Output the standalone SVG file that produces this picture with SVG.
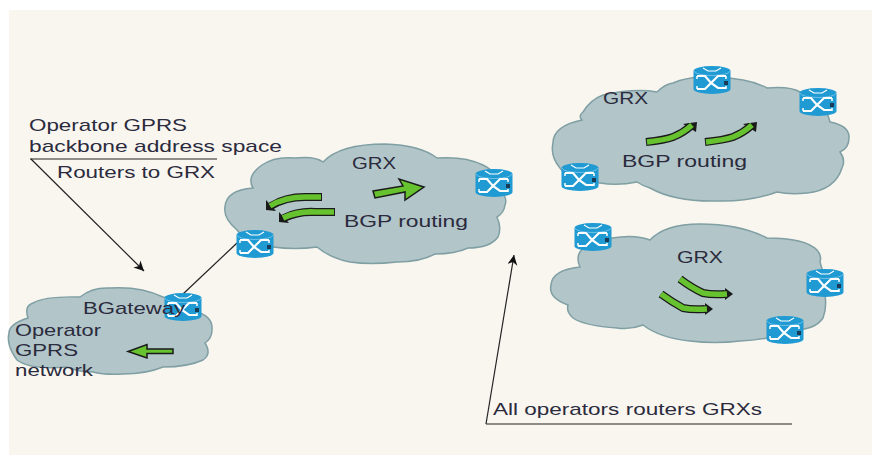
<svg xmlns="http://www.w3.org/2000/svg" width="881" height="455" viewBox="0 0 881 455">
<style>
.cloud{fill:#b2c5c9;stroke:#7f9fa3;stroke-width:1.5}
.t{font-family:"Liberation Sans",Arial,sans-serif;font-size:17px;fill:#2b2b3d}
.ln{fill:none;stroke:#222;stroke-width:1.2}
.ga{fill:none;stroke:#1a1a1a;stroke-width:8;stroke-linejoin:round}
.gb{fill:none;stroke:#66c22e;stroke-width:5.500;stroke-linejoin:round}
.gp{fill:#66c22e;stroke:#1a1a1a;stroke-width:1.5;stroke-linejoin:miter}
.hd{fill:#1a1a1a}
.wx{fill:none;stroke:#fff;stroke-width:2.2}
</style>
<defs>
<marker id="ah" markerWidth="12" markerHeight="12" refX="10" refY="5" orient="auto" markerUnits="userSpaceOnUse"><path d="M0,0 L10,5 L0,10 L3,5 Z" fill="#111"/></marker>
<g id="router">
<path d="M-18.500,-9 A18.500,5 0 0 1 18.500,-9 V9 A18.500,5 0 0 1 -18.500,9 Z" fill="#1f9ad3"/>
<path d="M-18,-9 A18,4.500 0 0 0 18,-9" fill="none" stroke="#6fc0e6" stroke-width="1"/>
<path class="wx" d="M-15,-4 H-7 L-1,3 L6,8 H14 M-15,9 H-7 L-1,3 L6,-4 H14"/>
<path d="M-15,-4 v3 M14,-4 v3 M-15,9 v-3 M14,9 v-3" fill="none" stroke="#fff" stroke-width="1.5"/>
<path d="M-9,-12 L-4,-9 H4 L9,-12" fill="none" stroke="#fff" stroke-width="1.2"/>
<path d="M12,1 l4,0 l0,4 l-4,0 z" fill="#1a3a55"/>
</g>
</defs>
<rect width="881" height="455" fill="#fff"/>
<rect x="9" y="10" width="863" height="445" fill="#f9f6f0"/>

<g id="cloud-operator">
<path class="cloud" d="M9,333 Q9,324 28,318 Q24,306 33,303 Q45,296 80,297 Q92,287 110,288 Q140,286 163,297 Q192,298 200,313 Q213,318 212,330 Q212,338 205,343 Q212,354 203,360 Q188,367 163,367 Q146,374 123,374 Q104,375 93,372 Q78,372 67,367 Q30,370 17,360 Q6,345 9,333 Z"/>
<path class="gp" d="M173,349 H147 V344.500 L128,351.500 L147,358 V353.500 H173 Z"/>
<text class="t" x="15" y="336" textLength="86" lengthAdjust="spacingAndGlyphs">Operator</text>
<text class="t" x="15" y="356" textLength="63" lengthAdjust="spacingAndGlyphs">GPRS</text>
<text class="t" x="15" y="376" textLength="78" lengthAdjust="spacingAndGlyphs">network</text>
</g>

<g id="cloud-grx-centre">
<path class="cloud" d="M225,207 Q226,190 253,188 Q246,176 262,165 Q275,156 295,158 Q315,156 323,162 Q340,144 385,144 Q420,145 437,158 Q465,156 483,165 Q498,172 500,190 Q508,198 505,205 Q504,213 497,217 Q502,228 498,237 Q490,248 468,248 Q455,254 435,254 Q420,262 397,262 Q370,265 350,262 Q330,258 317,247 Q295,250 273,247 Q248,245 237,230 Q223,218 225,207 Z"/>
<path class="ga" d="M322,197 H305 Q285,197 271,206"/><polygon class="hd" points="266,200 276,211 266,210"/><path class="gb" d="M321,197 H305 Q285,197 270,206"/>
<path class="ga" d="M335,212 H315 Q298,211 284,218"/><polygon class="hd" points="279,212 289,223 279,222"/><path class="gb" d="M334,212 H315 Q298,211 283,218"/>
<polygon class="gp" points="373,191 403,186 399,179 424,187 405,200 405,192 375,198"/>
<text class="t" x="352" y="169" textLength="44" lengthAdjust="spacingAndGlyphs">GRX</text>
<text class="t" x="344" y="227" textLength="124" lengthAdjust="spacingAndGlyphs">BGP routing</text>
</g>

<g id="cloud-grx-top">
<path class="cloud" d="M553,143 Q553,126 582,120 Q578,116 583,112 Q590,100 603,95 Q635,88 657,92 Q665,84 673,83 Q690,76 707,78 Q745,76 767,88 Q790,86 800,92 Q825,100 830,122 Q850,126 849,138 Q849,148 840,152 Q846,160 842,168 Q835,190 807,193 Q790,195 777,192 Q750,202 717,201 Q675,202 650,188 Q643,186 637,182 Q618,186 600,183 Q568,180 560,168 Q550,156 553,143 Z"/>
<path class="ga" d="M646,142 Q665,140 673,137 Q683,133 691,126"/><polygon class="hd" points="683,124 697,122 696,132"/><path class="gb" d="M647,142 Q665,140 673,137 Q683,133 692,125"/>
<path class="ga" d="M705,142 Q724,140 733,137 Q743,133 751,126"/><polygon class="hd" points="743,124 757,122 756,132"/><path class="gb" d="M706,142 Q724,140 733,137 Q743,133 752,125"/>
<text class="t" x="603" y="104" textLength="45" lengthAdjust="spacingAndGlyphs">GRX</text>
<text class="t" x="622" y="167" textLength="125" lengthAdjust="spacingAndGlyphs">BGP routing</text>
</g>

<g id="cloud-grx-bottom">
<path class="cloud" d="M551,285 Q552,270 580,267 Q576,258 580,252 Q590,238 612,238 Q635,234 650,240 Q665,224 700,224 Q740,224 767,238 Q805,238 817,250 Q822,256 820,262 Q826,280 825,295 Q827,308 823,318 Q815,330 793,330 Q770,340 740,341 Q715,344 690,341 Q660,338 643,325 Q630,330 617,328 Q585,326 573,318 Q566,312 568,305 Q548,298 551,285 Z"/>
<path class="ga" d="M680,279 Q692,288 703,293 Q712,295 725,294"/><polygon class="hd" points="725,288 733,294 725,300"/><path class="gb" d="M680,279 Q692,288 703,293 Q712,295 727,294"/>
<path class="ga" d="M661,294 Q672,302 683,308 Q692,310 705,309"/><polygon class="hd" points="705,303 713,309 705,315"/><path class="gb" d="M661,294 Q672,302 683,308 Q692,310 707,309"/>
<text class="t" x="677" y="263" textLength="46" lengthAdjust="spacingAndGlyphs">GRX</text>
</g>

<g id="connectors">
<line class="ln" x1="30" y1="159" x2="217" y2="159"/>
<line class="ln" x1="31" y1="159" x2="144" y2="271" marker-end="url(#ah)"/>
<line class="ln" x1="237" y1="243" x2="183" y2="294"/>
<line class="ln" x1="486" y1="424" x2="792" y2="424"/>
<line class="ln" x1="486" y1="424" x2="514" y2="255" marker-end="url(#ah)"/>
</g>

<g id="routers">
<use id="r1" href="#router" x="255" y="244"/>
<use id="r2" href="#router" x="183" y="307"/>
<use id="r3" href="#router" x="494" y="183"/>
<use id="r4" href="#router" x="712" y="80"/>
<use id="r5" href="#router" x="818" y="102"/>
<use id="r6" href="#router" x="580" y="177"/>
<use id="r7" href="#router" x="593" y="237"/>
<use id="r8" href="#router" x="825" y="283"/>
<use id="r9" href="#router" x="785" y="330"/>
</g>

<g id="labels">
<text class="t" x="83" y="314" textLength="102" lengthAdjust="spacingAndGlyphs">BGateway</text>
<text class="t" x="29" y="131" textLength="158" lengthAdjust="spacingAndGlyphs">Operator GPRS</text>
<text class="t" x="29" y="152" textLength="253" lengthAdjust="spacingAndGlyphs">backbone address space</text>
<text class="t" x="57" y="178" textLength="158" lengthAdjust="spacingAndGlyphs">Routers to GRX</text>
<text class="t" x="493" y="415" textLength="269" lengthAdjust="spacingAndGlyphs">All operators routers GRXs</text>
</g>
</svg>
